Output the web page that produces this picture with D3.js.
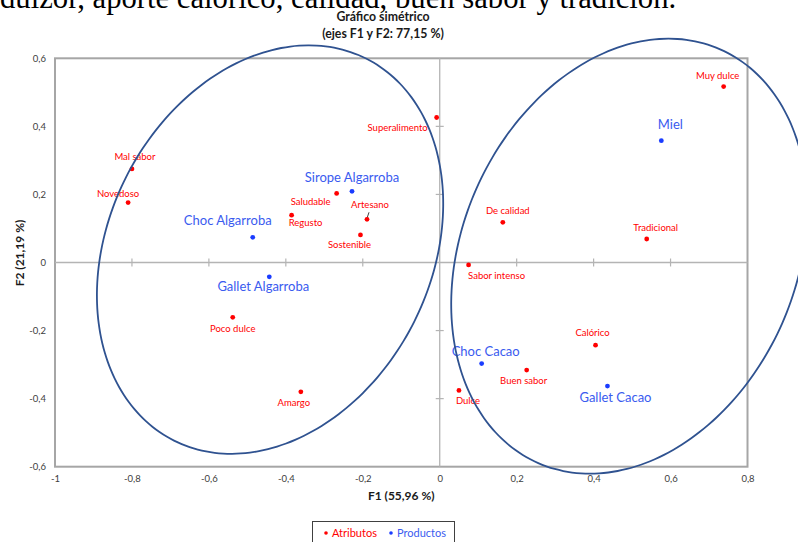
<!DOCTYPE html>
<html>
<head>
<meta charset="utf-8">
<script src="https://cdn.jsdelivr.net/npm/d3@7"></script>
<style>
  html, body { margin: 0; padding: 0; background: #fff; }
  svg { display: block; font-family: Lato, "Liberation Sans", sans-serif; }
</style>
</head>
<body>
<div id="chart"></div>
<script>
// ---- Data ----
const attributes = ["Muy dulce", "Superalimento", "Mal sabor", "Novedoso", "Saludable", "Regusto",
  "Artesano", "Sostenible", "De calidad", "Sabor intenso", "Tradicional", "Poco dulce",
  "Amargo", "Calórico", "Buen sabor", "Dulce"];
const attrF1 = [0.738, -0.008, -0.800, -0.810, -0.268, -0.385, -0.189, -0.206, 0.164, 0.075,
  0.538, -0.538, -0.361, 0.405, 0.226, 0.050];
const attrF2 = [0.517, 0.426, 0.275, 0.176, 0.203, 0.139, 0.127, 0.081, 0.118, -0.007,
  0.069, -0.161, -0.380, -0.243, -0.316, -0.376];

const products = ["Miel", "Sirope Algarroba", "Choc Algarroba", "Gallet Algarroba", "Choc Cacao", "Gallet Cacao"];
const prodF1 = [0.576, -0.228, -0.486, -0.443, 0.109, 0.436];
const prodF2 = [0.358, 0.209, 0.074, -0.042, -0.297, -0.363];

const xTicks = [-1, -0.8, -0.6, -0.4, -0.2, 0, 0.2, 0.4, 0.6, 0.8];
const yTicks = [-0.6, -0.4, -0.2, 0, 0.2, 0.4, 0.6];

// group ellipses drawn by hand: centre and two conjugate semi-axes, in F1/F2 units
const ellipseCenter = [[-0.441, 0.038], [0.4925, 0.0185]];
const ellipseAxisU = [[0.2496, 0.5613], [0.2364, 0.6079]];
const ellipseAxisV = [[0.3745, -0.2123], [0.3977, -0.1971]];

const legendItems = ["Atributos", "Productos"];

// label placement relative to the point (px), like the hand-moved labels in the original
const labelOffset = {
  "Muy dulce": [-6, -11], "Superalimento": [-39, 10], "Mal sabor": [3, -12], "Novedoso": [-10, -9],
  "Saludable": [-26, 8], "Regusto": [14, 7], "Artesano": [3, -15], "Sostenible": [-11, 10],
  "De calidad": [5, -12], "Sabor intenso": [28, 11], "Tradicional": [9, -11], "Poco dulce": [0, 11],
  "Amargo": [-7, 11], "Calórico": [-3, -13], "Buen sabor": [-3, 11], "Dulce": [9, 10],
  "Miel": [9, -16], "Sirope Algarroba": [0, -14], "Choc Algarroba": [-25, -17],
  "Gallet Algarroba": [-6, 10], "Choc Cacao": [4, -12], "Gallet Cacao": [8, 11]
};

const RED = "#ff0000", BLUE = "#1a3cff", BLUE_TXT = "#3a5bef";

const W = 798, H = 542;
const svg = d3.select("#chart").append("svg").attr("width", W).attr("height", H);

const locale = d3.formatLocale({ decimal: ",", thousands: ".", grouping: [3], currency: ["", ""], minus: "-" });
const fmt = v => v === 0 ? "0" : locale.format("~g")(+v.toFixed(1));

const x = d3.scaleLinear().domain([-1, 0.8]).range([55, 747.5]);
const y = d3.scaleLinear().domain([-0.6, 0.6]).range([466.7, 58.3]);

// ---- Text above the chart (cut-off line of the page) ----
svg.append("text")
  .attr("x", 0).attr("y", 8)
  .style("font-family", "'Liberation Serif', 'DejaVu Serif', serif")
  .style("font-size", "30.7px").style("fill", "#000")
  .text("dulzor, aporte calórico, calidad, buen sabor y tradición.");

// ---- Title ----
const title = svg.append("text").attr("text-anchor", "middle")
  .style("font-size", "12.3px").style("font-weight", "bold").style("fill", "#1a1a1a");
title.append("tspan").attr("x", 383).attr("y", 21).text("Gráfico simétrico");
title.append("tspan").attr("x", 383).attr("y", 38).text("(ejes F1 y F2: 77,15 %)");

// ---- Frame ----
svg.append("rect")
  .attr("x", x(-1)).attr("y", y(0.6))
  .attr("width", x(0.8) - x(-1)).attr("height", y(-0.6) - y(0.6))
  .attr("fill", "none").attr("stroke", "#a6a6a6").attr("stroke-width", 2);

// ---- Zero axes with crossing ticks ----
const axisColor = "#b4b4b4";
svg.append("line").attr("x1", x(-1)).attr("x2", x(0.8)).attr("y1", y(0)).attr("y2", y(0))
  .attr("stroke", axisColor).attr("stroke-width", 1.3);
svg.append("line").attr("x1", x(0)).attr("x2", x(0)).attr("y1", y(0.6)).attr("y2", y(-0.6))
  .attr("stroke", axisColor).attr("stroke-width", 1.3);

svg.append("g").selectAll("line")
  .data(xTicks.filter(d => d !== 0 && d !== -1 && d !== 0.8))
  .join("line")
  .attr("x1", d => x(d)).attr("x2", d => x(d))
  .attr("y1", y(0) - 4).attr("y2", y(0) + 4)
  .attr("stroke", axisColor).attr("stroke-width", 1.2);

svg.append("g").selectAll("line")
  .data(yTicks.filter(d => d !== 0 && Math.abs(d) !== 0.6))
  .join("line")
  .attr("x1", x(0) - 4).attr("x2", x(0) + 4)
  .attr("y1", d => y(d)).attr("y2", d => y(d))
  .attr("stroke", axisColor).attr("stroke-width", 1.2);

// ---- Tick labels on the frame ----
const xAxis = svg.append("g")
  .attr("transform", `translate(0,${y(-0.6)})`)
  .call(d3.axisBottom(x).tickValues(xTicks).tickSize(0).tickPadding(9).tickFormat(fmt));
const yAxis = svg.append("g")
  .attr("transform", `translate(${x(-1)},0)`)
  .call(d3.axisLeft(y).tickValues(yTicks).tickSize(0).tickPadding(9).tickFormat(fmt));
[xAxis, yAxis].forEach(g => {
  g.select(".domain").remove();
  g.selectAll("text").style("font-family", "Lato, sans-serif").style("font-size", "9.5px").style("fill", "#404040");
});

// ---- Axis titles ----
svg.append("text")
  .attr("x", (x(-1) + x(0.8)) / 2).attr("y", 500)
  .attr("text-anchor", "middle")
  .style("font-size", "12px").style("font-weight", "bold").style("fill", "#1a1a1a")
  .text("F1 (55,96 %)");

svg.append("text")
  .attr("transform", "translate(24,253) rotate(-90)")
  .attr("text-anchor", "middle")
  .style("font-size", "12px").style("font-weight", "bold").style("fill", "#1a1a1a")
  .text("F2 (21,19 %)");

// ---- Points ----
const attrData = attributes.map((name, i) => ({ name, f1: attrF1[i], f2: attrF2[i] }));
const prodData = products.map((name, i) => ({ name, f1: prodF1[i], f2: prodF2[i] }));

// Artesano has a leader line to its label
const art = attrData.find(d => d.name === "Artesano");
svg.append("line")
  .attr("x1", x(art.f1) + 2).attr("y1", y(art.f2) - 7)
  .attr("x2", x(art.f1)).attr("y2", y(art.f2) - 1)
  .attr("stroke", "#404040").attr("stroke-width", 1);

svg.append("g").selectAll("circle")
  .data(attrData)
  .join("circle")
  .attr("cx", d => x(d.f1)).attr("cy", d => y(d.f2))
  .attr("r", 2.4).attr("fill", RED);

svg.append("g").selectAll("circle")
  .data(prodData)
  .join("circle")
  .attr("cx", d => x(d.f1)).attr("cy", d => y(d.f2))
  .attr("r", 2.4).attr("fill", BLUE);

// ---- Labels ----
svg.append("g").selectAll("text")
  .data(attrData)
  .join("text")
  .attr("x", d => x(d.f1) + labelOffset[d.name][0])
  .attr("y", d => y(d.f2) + labelOffset[d.name][1])
  .attr("dy", "0.35em").attr("text-anchor", "middle")
  .style("font-size", "9.5px").style("fill", RED)
  .text(d => d.name);

svg.append("g").selectAll("text")
  .data(prodData)
  .join("text")
  .attr("x", d => x(d.f1) + labelOffset[d.name][0])
  .attr("y", d => y(d.f2) + labelOffset[d.name][1])
  .attr("dy", "0.35em").attr("text-anchor", "middle")
  .style("font-size", "13px").style("fill", BLUE_TXT)
  .text(d => d.name);

// ---- Ellipses ----
const tt = d3.range(0, 120).map(k => k / 120 * 2 * Math.PI);
const ellipseLine = d3.line()
  .x(p => x(p[0])).y(p => y(p[1]))
  .curve(d3.curveCardinalClosed);

svg.append("g").selectAll("path")
  .data(ellipseCenter.map((c, i) =>
    tt.map(t => [
      c[0] + ellipseAxisU[i][0] * Math.cos(t) + ellipseAxisV[i][0] * Math.sin(t),
      c[1] + ellipseAxisU[i][1] * Math.cos(t) + ellipseAxisV[i][1] * Math.sin(t)
    ])))
  .join("path")
  .attr("d", ellipseLine)
  .attr("fill", "none").attr("stroke", "#2f5290").attr("stroke-width", 1.8);

// ---- Legend ----
const legend = svg.append("g");
legend.append("rect")
  .attr("x", 312.5).attr("y", 521.5).attr("width", 142).attr("height", 30)
  .attr("fill", "#fff").attr("stroke", "#404040").attr("stroke-width", 1);
const legendX = [326, 391];
const legendColors = [RED, BLUE];
const legendTxt = [RED, BLUE_TXT];
legendItems.forEach((name, i) => {
  legend.append("circle").attr("cx", legendX[i]).attr("cy", 533).attr("r", 1.8).attr("fill", legendColors[i]);
  legend.append("text").attr("x", legendX[i] + 6).attr("y", 533).attr("dy", "0.35em")
    .style("font-size", "11px").style("fill", legendTxt[i]).text(name);
});
</script>
</body>
</html>
